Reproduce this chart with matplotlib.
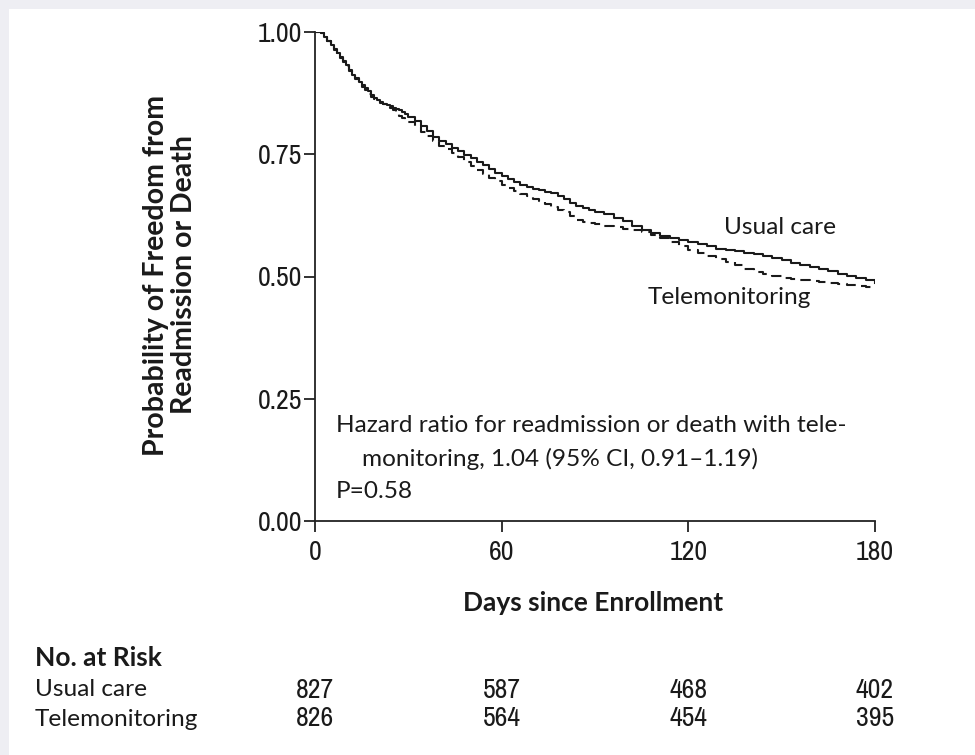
import matplotlib
matplotlib.use("Agg")
import matplotlib.pyplot as plt
from matplotlib import font_manager as fm

names = sorted({f.name for f in fm.fontManager.ttflist})
narrow = [n for n in names if 'Narrow' in n or 'Condensed' in n]
NARROW = narrow[0] if narrow else 'Liberation Sans'
MAIN = 'Lato'
plt.rcParams['font.family'] = [MAIN, 'DejaVu Sans']

days = [0, 1, 2, 3, 4, 5, 6, 7, 8, 9, 10, 11, 12, 13, 14, 15, 16, 17, 18, 19, 20,
        21, 22, 23, 24, 25, 26, 27, 28, 29, 30, 32, 34, 36, 38, 40, 42, 44, 46, 48,
        50, 52, 54, 56, 58, 60, 62, 64, 66, 68, 70, 72, 74, 76, 78, 80, 82, 84, 86,
        88, 90, 93, 96, 99, 102, 105, 108, 111, 114, 117, 120, 123, 126, 129, 132,
        135, 138, 141, 144, 147, 150, 153, 156, 159, 162, 165, 168, 171, 174, 177, 180]

surv_uc = [1.000, 1.000, 0.997, 0.990, 0.982, 0.973, 0.965, 0.957, 0.948, 0.940, 0.932,
           0.922, 0.913, 0.905, 0.898, 0.892, 0.886, 0.879, 0.872, 0.866, 0.861, 0.857,
           0.853, 0.850, 0.848, 0.845, 0.842, 0.840, 0.837, 0.832, 0.827, 0.818, 0.808,
           0.797, 0.786, 0.777, 0.770, 0.763, 0.756, 0.748, 0.742, 0.735, 0.727, 0.719,
           0.712, 0.705, 0.699, 0.693, 0.688, 0.683, 0.679, 0.676, 0.673, 0.670, 0.664,
           0.658, 0.651, 0.645, 0.640, 0.636, 0.632, 0.627, 0.620, 0.613, 0.604, 0.595,
           0.589, 0.583, 0.578, 0.574, 0.570, 0.566, 0.562, 0.557, 0.555, 0.552, 0.549,
           0.546, 0.542, 0.537, 0.533, 0.528, 0.524, 0.519, 0.515, 0.511, 0.506, 0.501,
           0.497, 0.492, 0.487]

surv_tm = [1.000, 1.000, 0.997, 0.989, 0.981, 0.972, 0.964, 0.955, 0.946, 0.938, 0.930,
           0.921, 0.912, 0.903, 0.895, 0.888, 0.881, 0.874, 0.868, 0.863, 0.858, 0.855,
           0.852, 0.849, 0.845, 0.840, 0.834, 0.829, 0.825, 0.820, 0.815, 0.806, 0.796,
           0.787, 0.777, 0.767, 0.760, 0.753, 0.745, 0.735, 0.726, 0.718, 0.709, 0.701,
           0.695, 0.688, 0.681, 0.674, 0.668, 0.664, 0.659, 0.654, 0.648, 0.642, 0.637,
           0.632, 0.624, 0.615, 0.611, 0.609, 0.607, 0.604, 0.601, 0.598, 0.595, 0.591,
           0.585, 0.578, 0.570, 0.562, 0.555, 0.548, 0.541, 0.535, 0.529, 0.523, 0.516,
           0.510, 0.505, 0.501, 0.497, 0.495, 0.493, 0.491, 0.489, 0.487, 0.485, 0.483,
           0.480, 0.478, 0.476]

x_ticks = [0, 60, 120, 180]
y_ticks = [0.00, 0.25, 0.50, 0.75, 1.00]
groups = ["Usual care", "Telemonitoring"]
at_risk_uc = [827, 587, 468, 402]
at_risk_tm = [826, 564, 454, 395]

W, H = 975, 755
INK = '#1a1a1a'
fig = plt.figure(figsize=(W / 100, H / 100), dpi=100)
fig.patch.set_facecolor('#eeeef3')
bg = fig.add_axes([9 / W, 0, 1 - 9 / W, 1 - 9 / H], zorder=0)
bg.set_axis_off()
bg.add_patch(plt.Rectangle((0, 0), 1, 1, transform=bg.transAxes, facecolor='white',
                           edgecolor='none'))

ax = fig.add_axes([315 / W, 1 - 521 / H, 560 / W, 489 / H], zorder=2)
ax.set_facecolor('none')
ax.plot(days, surv_uc, drawstyle='steps-post', color=INK, lw=1.5)
ax.plot(days, surv_tm, drawstyle='steps-post', color=INK, lw=1.5,
        linestyle=(0, (5, 3)))
ax.set_xlim(0, 180)
ax.set_ylim(0, 1.0)
ax.set_xticks(x_ticks)
ax.set_yticks(y_ticks)
ax.set_yticklabels([f"{v:.2f}" for v in y_ticks])
for s in ['top', 'right']:
    ax.spines[s].set_visible(False)
for s in ['left', 'bottom']:
    ax.spines[s].set_linewidth(1.3)
    ax.spines[s].set_color('#222222')
ax.tick_params(axis='both', direction='out', length=8, width=1.3, color='#222222',
               labelsize=20, pad=1, labelcolor=INK)
ax.tick_params(axis='x', pad=6)
for lab in ax.get_xticklabels() + ax.get_yticklabels():
    lab.set_family([NARROW, 'DejaVu Sans'])

ts = 17.6
ax.text(131.5, 0.60, "Usual care", fontsize=ts, ha='left', va='center', color=INK)
ax.text(107, 0.458, "Telemonitoring", fontsize=ts, ha='left', va='center', color=INK)
ax.text(6.7, 0.196, "Hazard ratio for readmission or death with tele-", fontsize=ts,
        ha='left', va='center', color=INK)
ax.text(15, 0.127, "monitoring, 1.04 (95% CI, 0.91\u20131.19)", fontsize=ts,
        ha='left', va='center', color=INK)
ax.text(6.7, 0.060, "P=0.58", fontsize=ts, ha='left', va='center', color=INK)

fig.text(170 / W, 1 - 275 / H, "Probability of Freedom from\nReadmission or Death",
         rotation=90, ha='center', va='center', fontsize=20.5, fontweight='bold',
         linespacing=1.05, color=INK)
fig.text(593 / W, 1 - 603 / H, "Days since Enrollment", ha='center', va='center',
         fontsize=19, fontweight='bold', color=INK)

fig.text(35 / W, 1 - 658 / H, "No. at Risk", ha='left', va='center', fontsize=19,
         fontweight='bold', color=INK)
for row, (name, vals) in enumerate(zip(groups, [at_risk_uc, at_risk_tm])):
    yy = 1 - (690 + 29 * row) / H
    fig.text(35 / W, yy, name, ha='left', va='center', fontsize=ts, color=INK)
    for xv, v in zip(x_ticks, vals):
        xf = ax.transData.transform((xv, 0))[0] / W
        fig.text(xf, yy, str(v), ha='center', va='center', fontsize=20, color=INK,
                 family=[NARROW, 'DejaVu Sans'])

fig.savefig("out.png", dpi=100, facecolor=fig.get_facecolor())
